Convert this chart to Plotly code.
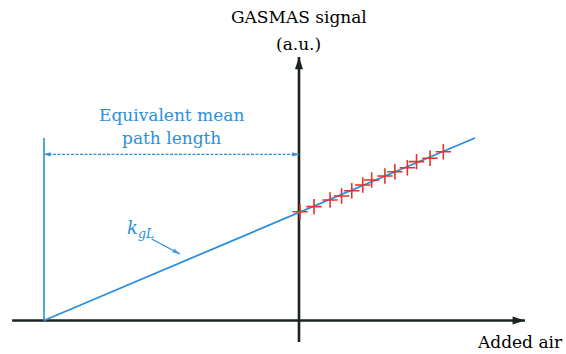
import plotly.graph_objects as go

# --- data -------------------------------------------------------------
# Measured GASMAS signal (a.u.) versus volume of added air
added_air = [0.04, 0.59, 1.22, 1.67, 2.07, 2.50, 2.85, 3.37, 3.76, 4.25, 4.61, 5.14, 5.66]
gasmas_signal = [10.07, 10.54, 11.16, 11.53, 12.02, 12.55, 13.01, 13.38, 13.78, 14.15, 14.71, 15.02, 15.63]

# Linear fit: signal = k_gL * (added air + L_eq)
slope_kgL = 1.0
intercept = 10.0
fit_x_end = 6.9
path_length_eq = intercept / slope_kgL       # x-intercept lies at -L_eq

# axis extents (data units)
x_axis_span = [-11.25, 8.86]
y_axis_span = [-1.99, 24.4]

BLUE = "#2b8fdb"
RED = "#e5322b"
AXIS = "#1b2320"
FONT = "DejaVu Serif"

fig = go.Figure()

# horizontal and vertical axes drawn as lines with arrowheads
fig.add_trace(go.Scatter(x=x_axis_span, y=[0, 0], mode="lines",
                         line=dict(color=AXIS, width=2.6), hoverinfo="skip"))
fig.add_trace(go.Scatter(x=[0, 0], y=y_axis_span, mode="lines",
                         line=dict(color=AXIS, width=2.6), hoverinfo="skip"))
fig.add_trace(go.Scatter(x=[x_axis_span[1]], y=[0], mode="markers",
                         marker=dict(symbol="arrow", size=13, angle=90, color=AXIS,
                                     line=dict(width=0)), hoverinfo="skip"))
fig.add_trace(go.Scatter(x=[0], y=[y_axis_span[1]], mode="markers",
                         marker=dict(symbol="arrow", size=13, angle=0, color=AXIS,
                                     line=dict(width=0)), hoverinfo="skip"))

# fitted line extrapolated back to zero signal
fit_x = [-path_length_eq, fit_x_end]
fit_y = [slope_kgL * (xv + path_length_eq) for xv in fit_x]
fig.add_trace(go.Scatter(x=fit_x, y=fit_y, mode="lines",
                         line=dict(color=BLUE, width=1.8), hoverinfo="skip"))

# vertical marker at the x-intercept
fig.add_trace(go.Scatter(x=[-path_length_eq, -path_length_eq], y=[0, fit_y[1]],
                         mode="lines", line=dict(color=BLUE, width=1.6), hoverinfo="skip"))

# dashed double arrow showing the equivalent mean path length
dim_y = 15.39
fig.add_trace(go.Scatter(x=[-path_length_eq, 0], y=[dim_y, dim_y], mode="lines",
                         line=dict(color=BLUE, width=1.3, dash="3px,1.5px"), hoverinfo="skip"))
fig.add_trace(go.Scatter(x=[-path_length_eq, 0], y=[dim_y, dim_y], mode="markers",
                         marker=dict(symbol="arrow", size=7, angle=[270, 90], color=BLUE,
                                     line=dict(width=0)), hoverinfo="skip"))

# measured points
fig.add_trace(go.Scatter(x=added_air, y=gasmas_signal, mode="markers",
                         marker=dict(symbol="cross-thin", size=11,
                                     line=dict(color=RED, width=1.6)), hoverinfo="skip"))

# slope label pointer (line + arrowhead)
ptr_x = [-5.78, -4.67]
ptr_y = [7.55, 6.16]
fig.add_trace(go.Scatter(x=ptr_x, y=ptr_y, mode="lines",
                         line=dict(color=BLUE, width=1.3), hoverinfo="skip"))
fig.add_trace(go.Scatter(x=ptr_x, y=ptr_y, mode="markers",
                         marker=dict(symbol="arrow", size=[0, 8], angleref="previous",
                                     color=BLUE, line=dict(width=0)), hoverinfo="skip"))

texts = [
    dict(x=0, y=28.1, text="GASMAS signal", color="black", size=17),
    dict(x=0, y=25.6, text="(a.u.)", color="black", size=17),
    dict(x=8.65, y=-1.99, text="Added air", color="black", size=17),
    dict(x=-5.0, y=19.03, text="Equivalent mean", color=BLUE, size=17),
    dict(x=-5.0, y=16.9, text="path length", color=BLUE, size=17),
    dict(x=-6.2, y=8.5, text="<i>k</i><sub><i>gL</i></sub>", color=BLUE, size=18),
]
for t in texts:
    fig.add_annotation(x=t["x"], y=t["y"], xref="x", yref="y", text=t["text"],
                       showarrow=False, xanchor="center", yanchor="middle",
                       font=dict(family=FONT, size=t["size"], color=t["color"]))

fig.update_layout(
    width=566, height=354,
    margin=dict(l=0, r=0, t=0, b=0),
    paper_bgcolor="white", plot_bgcolor="white",
    showlegend=False,
    xaxis=dict(range=[-11.725, 10.471], visible=False, fixedrange=True),
    yaxis=dict(range=[-3.102, 29.676], visible=False, fixedrange=True),
)

fig.write_html("out.html")
